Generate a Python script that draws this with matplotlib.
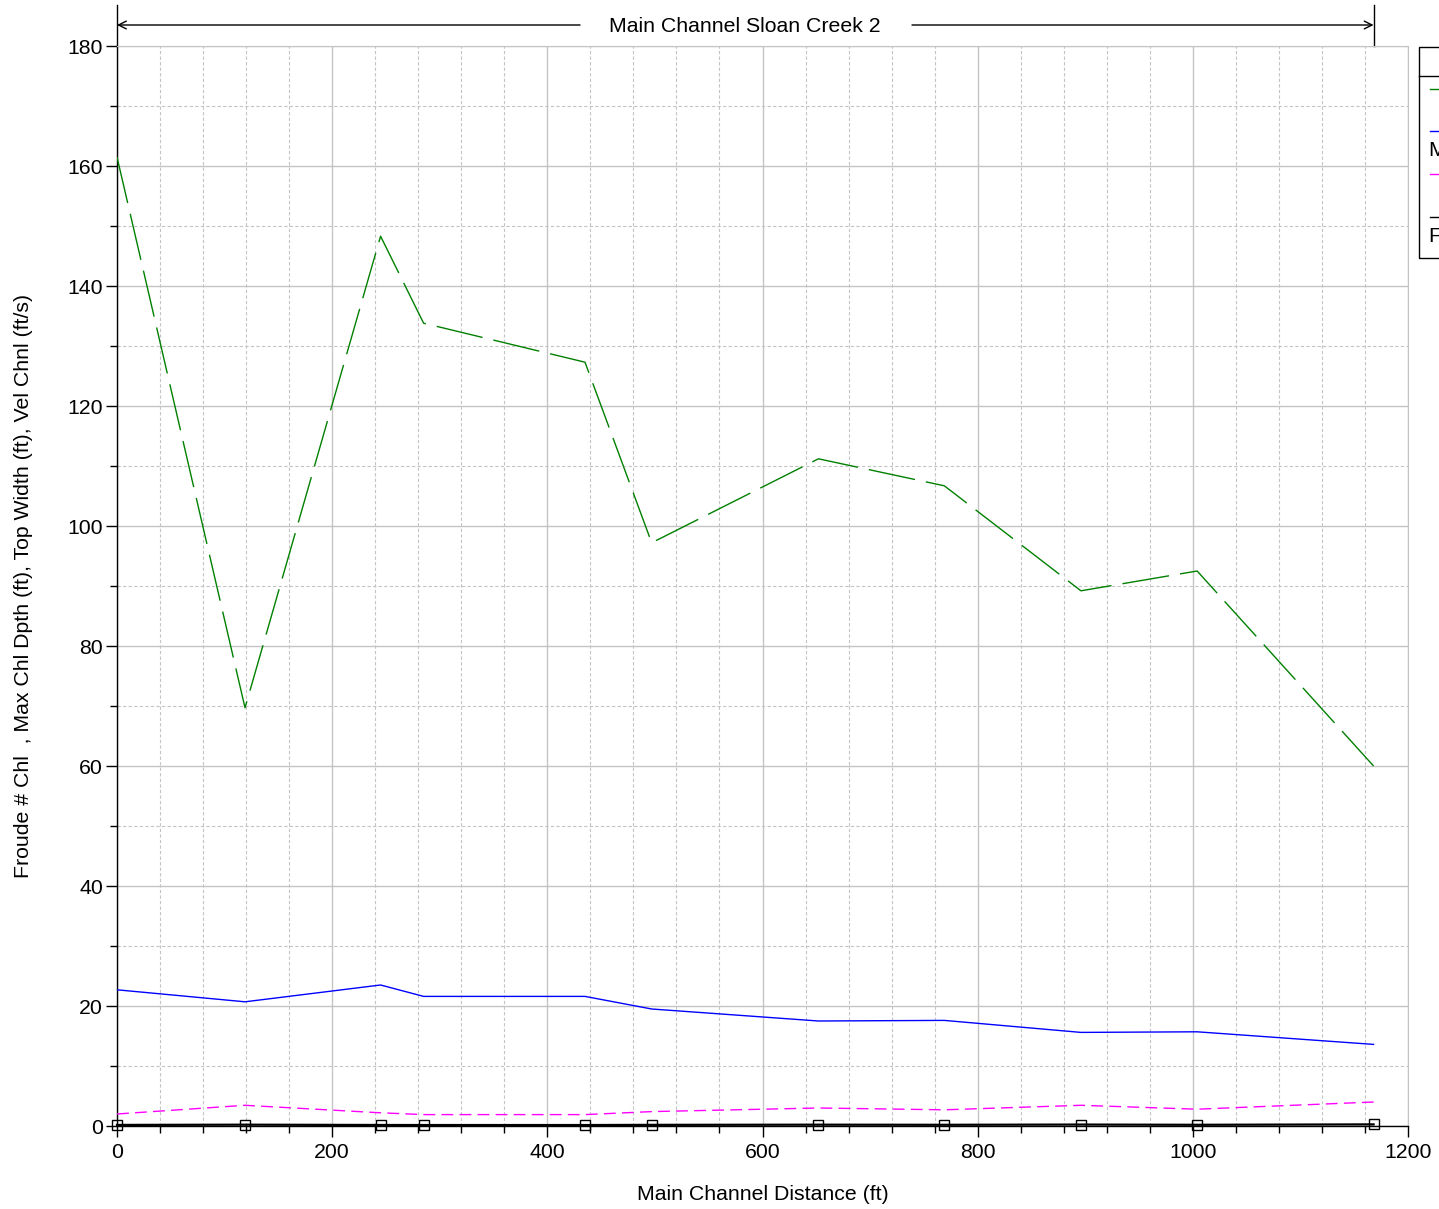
import matplotlib
matplotlib.use("Agg")
import matplotlib.pyplot as plt
from matplotlib.lines import Line2D
from matplotlib.patches import Rectangle
from matplotlib.ticker import MultipleLocator
import matplotlib.transforms as mtransforms

plt.rcParams['font.family'] = ['Liberation Sans', 'DejaVu Sans']

# ---- data ----
dist = [0, 119, 245, 285, 435, 497, 652, 769, 896, 1004, 1168]
top_width = [161.5, 69.7, 148.3, 133.8, 127.3, 97.2, 111.2, 106.7, 89.2, 92.5, 60.0]
max_chl_dpth = [22.7, 20.7, 23.5, 21.6, 21.6, 19.5, 17.5, 17.6, 15.6, 15.7, 13.6]
vel_chnl = [2.0, 3.45, 2.2, 1.9, 1.9, 2.4, 3.0, 2.7, 3.45, 2.8, 4.0]
froude = [0.18, 0.22, 0.17, 0.16, 0.16, 0.19, 0.22, 0.2, 0.24, 0.2, 0.27]
reach_label = "Main Channel Sloan Creek 2"
xlabel = "Main Channel Distance (ft)"
ylabel = "Froude # Chl  , Max Chl Dpth (ft), Top Width (ft), Vel Chnl (ft/s)"

FS = 15.3
W, H = 1439, 1209
fig = plt.figure(figsize=(W / 100, H / 100), dpi=100)
L, R, T, B = 117, 1408, 46, 1126
ax = fig.add_axes([L / W, 1 - B / H, (R - L) / W, (B - T) / H])

ax.set_xlim(0, 1200)
ax.set_ylim(0, 180)
ax.xaxis.set_major_locator(MultipleLocator(200))
ax.xaxis.set_minor_locator(MultipleLocator(40))
ax.yaxis.set_major_locator(MultipleLocator(20))
ax.yaxis.set_minor_locator(MultipleLocator(10))
ax.grid(which='major', color='#c4c4c4', lw=1.0, ls='-')
ax.grid(which='minor', color='#c4c4c4', lw=0.8, ls=(0, (3, 2)))
ax.set_axisbelow(True)

for s in ['top', 'right']:
    ax.spines[s].set_color('#c4c4c4')
for s in ['left', 'bottom']:
    ax.spines[s].set_color('black')
    ax.spines[s].set_linewidth(1.0)

ax.tick_params(which='major', direction='out', length=8, width=1, labelsize=FS, color='black')
ax.tick_params(which='minor', direction='out', length=5, width=1, color='black')
ax.tick_params(axis='x', which='major', pad=4)
ax.tick_params(axis='y', which='major', pad=2)

ax.plot(dist, top_width, color='#008000', lw=1.0, dashes=(34, 8), zorder=3)
ax.plot(dist, max_chl_dpth, color='#0000ff', lw=1.0, zorder=3)
ax.plot(dist, vel_chnl, color='#ff00ff', lw=1.0, dashes=(8.5, 4.5), zorder=3)
ax.plot(dist, froude, color='black', lw=1.6, marker='s', ms=7, mfc='none',
        mec='black', mew=1.0, zorder=4, clip_on=False)

ax.set_xlabel(xlabel, fontsize=FS, labelpad=17)
ax.set_ylabel(ylabel, fontsize=FS, labelpad=25)

# ---- reach annotation above plot ----
trans = mtransforms.blended_transform_factory(ax.transData, ax.transAxes)
y_arrow = (B - 25) / (B - T)
y_text = (B - 27) / (B - T)
y_top = (B - 5) / (B - T)
x_end = dist[-1]
gap_l = (580 - L) / ((R - L) / 1200)
gap_r = (912 - L) / ((R - L) / 1200)
ax.add_line(Line2D([0, 0], [1, y_top], transform=trans, color='black', lw=1.0, clip_on=False))
ax.add_line(Line2D([x_end, x_end], [1, y_top], transform=trans, color='black', lw=1.0, clip_on=False))
ax.annotate('', xy=(0, y_arrow), xytext=(gap_l, y_arrow), xycoords=trans, textcoords=trans,
            arrowprops=dict(arrowstyle='->', lw=1.0, color='black', shrinkA=0, shrinkB=0,
                            mutation_scale=14), annotation_clip=False)
ax.annotate('', xy=(x_end, y_arrow), xytext=(gap_r, y_arrow), xycoords=trans, textcoords=trans,
            arrowprops=dict(arrowstyle='->', lw=1.0, color='black', shrinkA=0, shrinkB=0,
                            mutation_scale=14), annotation_clip=False)
ax.text(x_end / 2, y_text, reach_label, transform=trans, ha='center', va='center',
        fontsize=FS, clip_on=False)

# ---- legend (partially outside the figure, as in the reference) ----
def fx(px):
    return px / W

def fy(py):
    return 1 - py / H

fig.add_artist(Rectangle((fx(1419), fy(258)), fx(60), fy(47) - fy(258),
                         transform=fig.transFigure, fill=False, ec='black', lw=1.0))
fig.add_artist(Line2D([fx(1419), fx(1480)], [fy(76), fy(76)], transform=fig.transFigure,
                      color='black', lw=1.0))
leg_rows = [(89, '#008000'), (131, '#0000ff'), (174, '#ff00ff'), (217, 'black')]
for py, col in leg_rows:
    fig.add_artist(Line2D([fx(1430), fx(1470)], [fy(py), fy(py)], transform=fig.transFigure,
                          color=col, lw=1.0))
fig.text(fx(1429), fy(151), "Max Chl Dpth", fontsize=FS, va='center', ha='left')
fig.text(fx(1429), fy(236), "Froude # Chl", fontsize=FS, va='center', ha='left')

fig.savefig("out.png", dpi=100)
